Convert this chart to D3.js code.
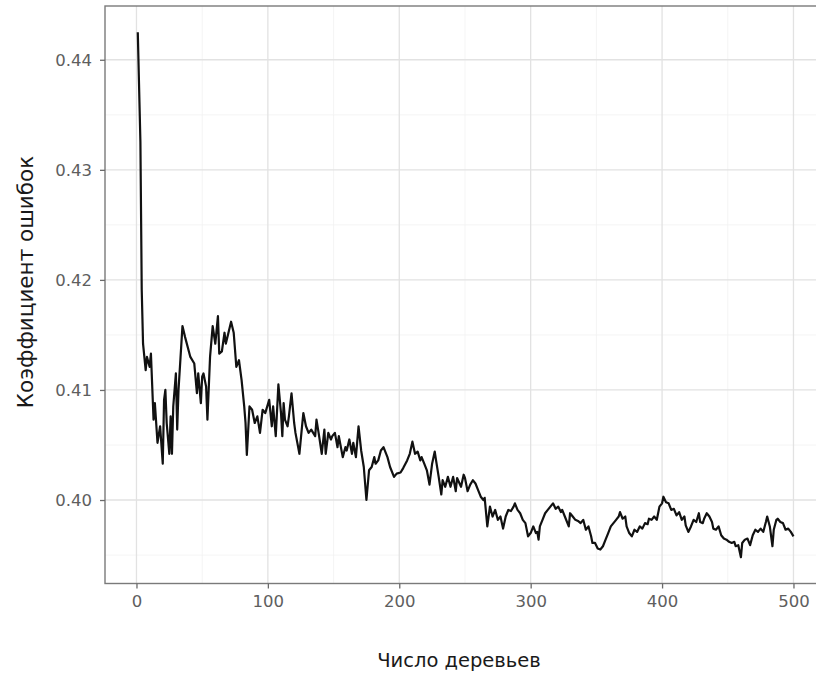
<!DOCTYPE html>
<html>
<head>
<meta charset="utf-8">
<script src="https://cdn.jsdelivr.net/npm/d3@7"></script>
<style>
html,body{margin:0;padding:0;background:#fff;}
svg{display:block;font-family:"DejaVu Sans",Arial,sans-serif;}
</style>
</head>
<body>
<svg id="chart" width="816" height="674"></svg>
<script>
const trees = [1,2,3,4,5,7,8,10,11,13,14,16,18,20,21,22,23,25,26,27,28,30,31,32,35,37,41,44,46,47,49,50,51,53,54,56,58,60,62,63,65,67,68,70,72,74,76,78,80,82,83,84,86,88,90,92,94,96,98,
101,103,104,106,108,110,111,112,113,115,116,118,120,121,124,126,127,129,131,133,136,137,139,141,143,144,146,148,149,151,153,154,157,159,160,162,164,165,167,169,171,173,175,177,179,181,182,184,186,188,191,193,196,198,
201,203,206,208,210,212,214,216,217,219,221,223,225,227,228,230,232,233,235,237,239,241,243,244,247,249,250,252,254,256,258,260,262,264,265,267,269,271,273,275,277,279,281,283,285,287,288,290,292,294,296,298,300,
302,304,305,306,307,309,311,313,315,317,319,321,323,324,326,329,330,332,334,336,338,340,342,344,346,347,349,351,353,355,357,359,361,363,365,367,368,370,372,373,375,377,379,381,383,385,387,389,390,392,394,396,398,400,
401,403,405,407,409,411,413,415,417,418,420,422,424,426,428,429,431,432,434,436,438,439,441,443,445,447,449,451,453,455,456,458,460,461,463,465,467,469,471,473,475,477,479,480,482,484,485,487,488,490,492,494,496,498,500];

const errorRate = [0.4425,0.4375,0.4325,0.4191,0.4142,0.4118,0.4130,0.4121,0.4133,0.4073,0.4088,0.4052,0.4067,0.4033,0.4091,0.4100,0.4070,0.4042,0.4076,0.4042,0.4085,0.4115,0.4064,0.4100,0.4158,0.4148,0.4130,0.4124,0.4097,0.4115,0.4088,0.4112,0.4115,0.4103,0.4073,0.4130,0.4158,0.4142,0.4167,0.4133,0.4135,0.4152,0.4142,0.4152,0.4162,0.4152,0.4121,0.4127,0.4109,0.4085,0.4070,0.4041,0.4085,0.4082,0.4070,0.4076,0.4061,0.4082,0.4079,
0.4091,0.4067,0.4085,0.4058,0.4105,0.4079,0.4058,0.4088,0.4073,0.4067,0.4076,0.4097,0.4070,0.4061,0.4042,0.4067,0.4079,0.4067,0.4061,0.4064,0.4058,0.4073,0.4058,0.4042,0.4064,0.4042,0.4061,0.4055,0.4058,0.4061,0.4048,0.4058,0.4039,0.4048,0.4045,0.4055,0.4042,0.4052,0.4039,0.4067,0.4045,0.4030,0.4000,0.4027,0.4030,0.4039,0.4033,0.4036,0.4045,0.4048,0.4039,0.4030,0.4021,0.4024,
0.4025,0.4029,0.4036,0.4042,0.4053,0.4042,0.4044,0.4036,0.4039,0.4033,0.4027,0.4014,0.4033,0.4044,0.4036,0.4021,0.4005,0.4018,0.4012,0.4021,0.4012,0.4021,0.4008,0.4020,0.4012,0.4023,0.4020,0.4008,0.4014,0.4018,0.4015,0.4009,0.4003,0.4000,0.4002,0.3976,0.3994,0.3985,0.3991,0.3982,0.3985,0.3974,0.3985,0.3991,0.3990,0.3994,0.3997,0.3991,0.3988,0.3982,0.3979,0.3967,0.3970,
0.3976,0.3970,0.3971,0.3964,0.3976,0.3982,0.3988,0.3991,0.3994,0.3997,0.3992,0.3994,0.3989,0.3991,0.3985,0.3976,0.3988,0.3985,0.3982,0.3981,0.3979,0.3982,0.3973,0.3976,0.3967,0.3961,0.3961,0.3956,0.3955,0.3958,0.3964,0.3970,0.3976,0.3979,0.3982,0.3985,0.3989,0.3983,0.3985,0.3976,0.3970,0.3967,0.3973,0.3971,0.3976,0.3974,0.3979,0.3978,0.3983,0.3982,0.3985,0.3982,0.3994,0.3997,
0.4003,0.3998,0.3997,0.3991,0.3992,0.3986,0.3989,0.3982,0.3985,0.3977,0.3971,0.3976,0.3982,0.3980,0.3988,0.3980,0.3979,0.3983,0.3988,0.3985,0.3980,0.3974,0.3973,0.3976,0.3968,0.3965,0.3964,0.3962,0.3961,0.3962,0.3958,0.3959,0.3948,0.3961,0.3964,0.3965,0.3959,0.3968,0.3973,0.3971,0.3974,0.3971,0.3980,0.3985,0.3976,0.3958,0.3973,0.3982,0.3983,0.3980,0.3979,0.3973,0.3974,0.3971,0.3967];

const xTicks = [0,100,200,300,400,500];
const xMinor = [50,150,250,350,450];
const yTicks = [0.40,0.41,0.42,0.43,0.44];
const yMinor = [0.395,0.405,0.415,0.425,0.435];
const xTitle = "Число деревьев";
const yTitle = "Коэффициент ошибок";

const data = trees.map((t,i)=>({t, v: errorRate[i]}));

const svg = d3.select("#chart");
const W = 816, H = 674;
const panel = {left:105, top:6, bottom:583.5};

const xExt = d3.extent(trees), xPad = (xExt[1]-xExt[0])*0.05;
const yExt = d3.extent(errorRate), yPad = (yExt[1]-yExt[0])*0.05;
const xDom = [xExt[0]-xPad, xExt[1]+xPad];
const yDom = [yExt[0]-yPad, yExt[1]+yPad];
const pxPerUnit = 1.314;
const x = d3.scaleLinear().domain(xDom).range([panel.left, panel.left + (xDom[1]-xDom[0])*pxPerUnit]);
const y = d3.scaleLinear().domain(yDom).range([panel.bottom, panel.top]);
const right = x.range()[1];

svg.append("rect").attr("x",0).attr("y",0).attr("width",W).attr("height",H).attr("fill","#fff");

const g = svg.append("g");
// minor grid
g.selectAll(".xminor").data(xMinor).join("line")
  .attr("x1",d=>x(d)).attr("x2",d=>x(d)).attr("y1",panel.top).attr("y2",panel.bottom)
  .attr("stroke","#f1f1f1").attr("stroke-width",0.8);
g.selectAll(".yminor").data(yMinor).join("line")
  .attr("y1",d=>y(d)).attr("y2",d=>y(d)).attr("x1",panel.left).attr("x2",right)
  .attr("stroke","#f1f1f1").attr("stroke-width",0.8);
// major grid
g.selectAll(".xmajor").data(xTicks).join("line")
  .attr("x1",d=>x(d)).attr("x2",d=>x(d)).attr("y1",panel.top).attr("y2",panel.bottom)
  .attr("stroke","#e2e2e2").attr("stroke-width",1.3);
g.selectAll(".ymajor").data(yTicks).join("line")
  .attr("y1",d=>y(d)).attr("y2",d=>y(d)).attr("x1",panel.left).attr("x2",right)
  .attr("stroke","#e2e2e2").attr("stroke-width",1.3);

// line
const line = d3.line().x(d=>x(d.t)).y(d=>y(d.v));
g.append("path").datum(data).attr("d",line)
  .attr("fill","none").attr("stroke","#111").attr("stroke-width",2.2).attr("stroke-linejoin","round");

// panel border
g.append("rect").attr("x",panel.left).attr("y",panel.top)
  .attr("width",right-panel.left).attr("height",panel.bottom-panel.top)
  .attr("fill","none").attr("stroke","#7a7a7a").attr("stroke-width",1.4);

// axes
const xAxis = d3.axisBottom(x).tickValues(xTicks).tickSize(5).tickPadding(7).tickFormat(d3.format("d"));
const yAxis = d3.axisLeft(y).tickValues(yTicks).tickSize(5).tickPadding(8).tickFormat(d3.format(".2f"));
const gx = svg.append("g").attr("transform",`translate(0,${panel.bottom})`).call(xAxis);
const gy = svg.append("g").attr("transform",`translate(${panel.left},0)`).call(yAxis);
[gx,gy].forEach(a=>{
  a.select(".domain").remove();
  a.selectAll(".tick line").attr("stroke","#6a6a6a").attr("stroke-width",1.3);
  a.selectAll(".tick text").attr("fill","#5e5e5e").attr("font-size","16.5px")
    .attr("font-family","'DejaVu Sans',Arial,sans-serif");
});

svg.append("text").attr("x",459).attr("y",667)
  .attr("text-anchor","middle").attr("font-size","19.5px").attr("fill","#1a1a1a").text(xTitle);
svg.append("text").attr("transform",`translate(33,282) rotate(-90)`)
  .attr("text-anchor","middle").attr("font-size","21.5px").attr("fill","#1a1a1a").text(yTitle);
</script>
</body>
</html>
